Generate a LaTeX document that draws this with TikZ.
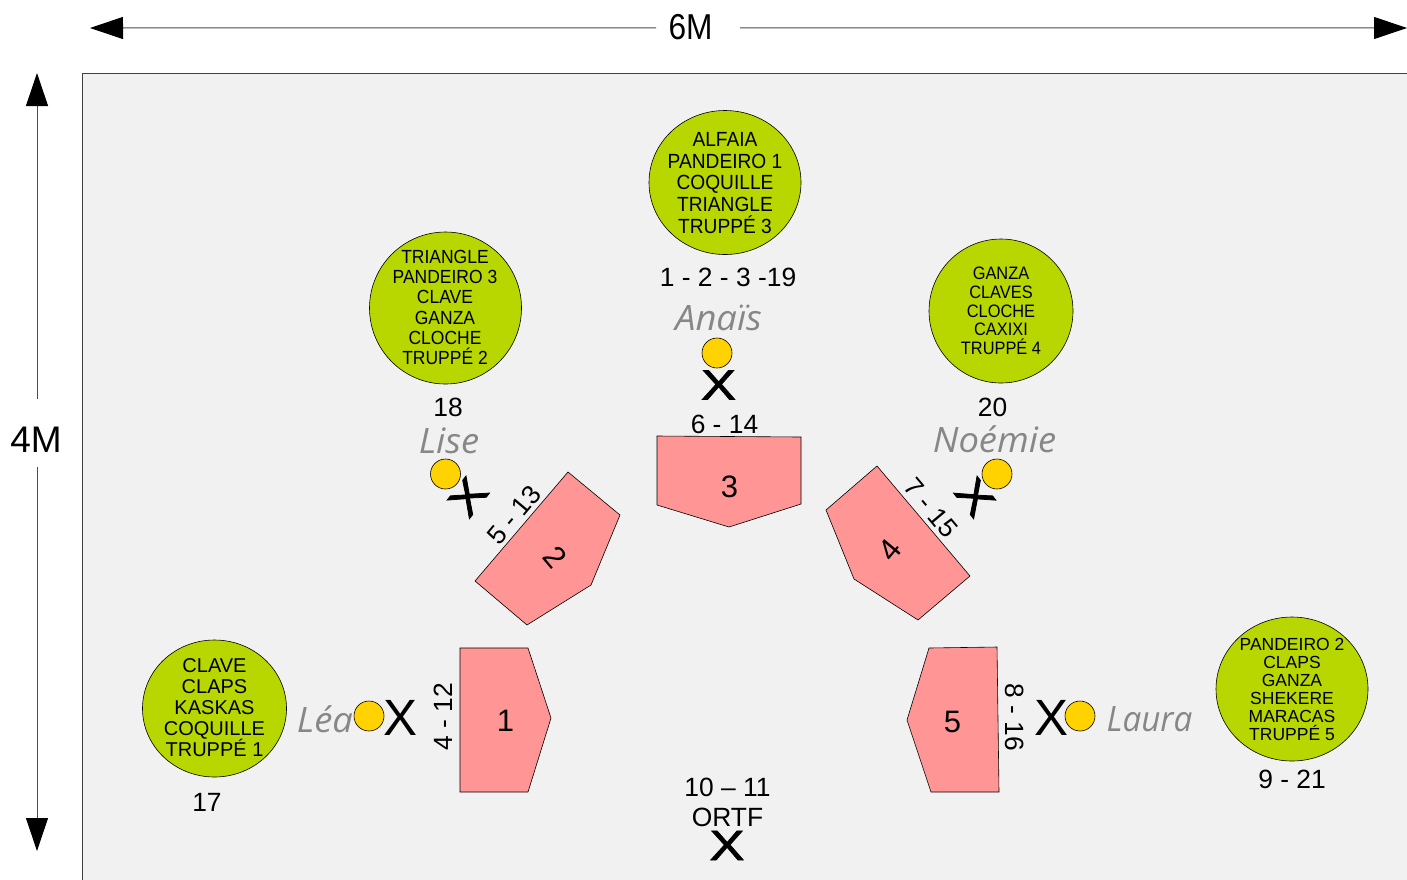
\documentclass[tikz,border=0pt]{standalone}
\usepackage{fontspec}
\setmainfont{Liberation Sans}
\newfontfamily\namefont{Open Sans}
\newfontfamily\xfont[FakeBold=1.6]{Liberation Sans}
\usetikzlibrary{arrows.meta,shapes.geometric}
\definecolor{bgfill}{HTML}{F1F1F1}
\definecolor{pinkfill}{HTML}{FF9595}
\definecolor{greenfill}{HTML}{B8D600}
\definecolor{yellowfill}{HTML}{FFD200}
\newcommand{\fs}[1]{\fontsize{#1}{#1}\selectfont}
\newcommand{\plainx}{\fs{51}X}
\newcommand{\wideX}{\scalebox{1.03}[0.83]{\xfont\fs{51}X}}
\newcommand{\ctxt}[4]{\scalebox{#1}[1]{\fs{#2}\vbox{\baselineskip=#3pt\lineskiplimit=-20pt\let\\\cr\halign{\hfil##\hfil\cr #4\cr}}}}
\newcommand{\nmt}[1]{\scalebox{1.04}[1]{#1}}
\tikzset{
  x=1pt,y=-1pt,
  every node/.style={inner sep=0pt,outer sep=0pt},
  stage/.style={draw=black,line width=0.6pt,fill=pinkfill},
  instr/.style={draw=black,line width=0.6pt,fill=greenfill,ellipse},
  singer/.style={draw=black,line width=0.6pt,fill=yellowfill,circle,minimum size=30pt},
  nm/.style={font=\namefont\itshape\fs{35},text=black!47},
  lbl/.style={font=\fs{26.4}},
  dimline/.style={draw=black!70,line width=1pt,-{Triangle[length=33pt,width=22pt,color=black]}},
}
\begin{document}
\begin{tikzpicture}
\useasboundingbox (0,0) rectangle (1407,879);
\fill[white] (0,0) rectangle (1407,879);
\draw[draw=black!75,line width=1pt,fill=bgfill] (1420,73) -- (82,73) -- (82,890) -- (1420,890) -- cycle;

% dimensions
\coordinate (dl) at (90,28); \coordinate (dr) at (1407,28);
\coordinate (dt) at (37,73); \coordinate (db) at (37,851);
\node[minimum width=84pt,minimum height=40pt] (six) at (698,27.8) {};
\node (sixt) at (690.5,27) {\fs{36}\scalebox{0.88}[1]{6M}};
\node[minimum width=60pt,minimum height=68pt] (four) at (37,432.5) {};
\node (fourt) at (36,439.5) {\fs{37}4M};
\draw[dimline] (six.west) -- (dl);
\draw[dimline] (six.east) -- (dr);
\draw[dimline] (four.north) -- (dt);
\draw[dimline] (four.south) -- (db);

% stages
\draw[stage] (460,648) -- (528,648) -- (551,718) -- (528,792) -- (460,792) -- cycle;
\draw[stage] (568,472) -- (620,515) -- (591,585) -- (527,625) -- (475,581) -- cycle;
\draw[stage] (657,436) -- (801,437) -- (801,504) -- (729,527) -- (657,505) -- cycle;
\draw[stage] (877,466) -- (826,510) -- (854,579) -- (918,620) -- (970,576) -- cycle;
\draw[stage] (929,648) -- (997,647) -- (999,792) -- (931,792) -- (907,720) -- cycle;
\node[font=\fs{31}] (s1) at (505.5,720.5) {1};
\node[font=\fs{31},rotate=-50] (s2) at (555,557) {2};
\node[font=\fs{31}] (s3) at (729.5,486.5) {3};
\node[font=\fs{31},rotate=50] (s4) at (890,550) {4};
\node[font=\fs{31}] (s5) at (952.5,721.5) {5};

% instrument circles
\node[instr,minimum width=152pt,minimum height=144pt] (c3) at (725,182.5) {};
\node[instr,minimum width=152pt,minimum height=152pt] (c2) at (445.5,308) {};
\node[instr,minimum width=144pt,minimum height=144pt] (c4) at (1001,311) {};
\node[instr,minimum width=152pt,minimum height=144pt] (c5) at (1292,689) {};
\node[instr,minimum width=144pt,minimum height=137pt] (c1) at (214.5,708.5) {};
\node (t3) at (725,183) {\ctxt{.935}{20.5}{21.7}{ALFAIA\\PANDEIRO 1\\COQUILLE\\TRIANGLE\\TRUPPÉ 3}};
\node (t2) at (445,307.5) {\ctxt{.92}{19}{20.2}{TRIANGLE\\PANDEIRO 3\\CLAVE\\GANZA\\CLOCHE\\TRUPPÉ 2}};
\node (t4) at (1001,311) {\ctxt{.91}{18}{18.7}{GANZA\\CLAVES\\CLOCHE\\CAXIXI\\TRUPPÉ 4}};
\node (t5) at (1292,689) {\ctxt{1}{17.5}{18}{PANDEIRO 2\\CLAPS\\GANZA\\SHEKERE\\MARACAS\\TRUPPÉ 5}};
\node (t1) at (214.5,708) {\ctxt{1}{20}{21}{CLAVE\\CLAPS\\KASKAS\\COQUILLE\\TRUPPÉ 1}};

% numbers
\node[lbl] (n3) at (728,277.7) {1 - 2 - 3 -19};
\node[lbl] (n2) at (448,407.7) {18};
\node[lbl] (n4) at (992.5,407.7) {20};
\node[lbl] (n5) at (1292,779.7) {9 - 21};
\node[lbl] (n1) at (207,802.7) {17};
\node[lbl] (m3) at (724.5,424.7) {6 - 14};
\node[lbl,rotate=50] (m2) at (514,515) {5 - 13};
\node[lbl,rotate=-50] (m4) at (931,508) {7 - 15};
\node[lbl,rotate=90] (m1) at (443.5,717) {4 - 12};
\node[lbl,rotate=-90] (m5) at (1014.5,717) {8 - 16};
\node (ortf) at (727.5,802.5) {\ctxt{1}{26.4}{30}{10 – 11\\ORTF}};

% names
\node[nm] (nA) at (718.5,318) {\nmt{Anaïs}};
\node[nm] (nL) at (449,441) {\nmt{Lise}};
\node[nm] (nN) at (994.5,439) {\nmt{Noémie}};
\node[nm] (nE) at (325,719) {\nmt{Léa}};
\node[nm] (nU) at (1149.5,719) {\scalebox{.95}[1]{Laura}};

% singers
\node[singer] (y3) at (717,353) {};
\node[singer] (y2) at (445.5,474) {};
\node[singer] (y4) at (997,474) {};
\node[singer] (y1) at (369,716) {};
\node[singer] (y5) at (1080,716) {};

% microphones
\node (x3) at (718.5,385) {\wideX};
\node[rotate=52] (x2) at (468,497) {\wideX};
\node[rotate=-52] (x4) at (975,497) {\wideX};
\node (x1) at (400.5,717.5) {\plainx};
\node (x5) at (1051,717.5) {\plainx};
\node (x0) at (727,845.5) {\wideX};
\end{tikzpicture}
\end{document}
